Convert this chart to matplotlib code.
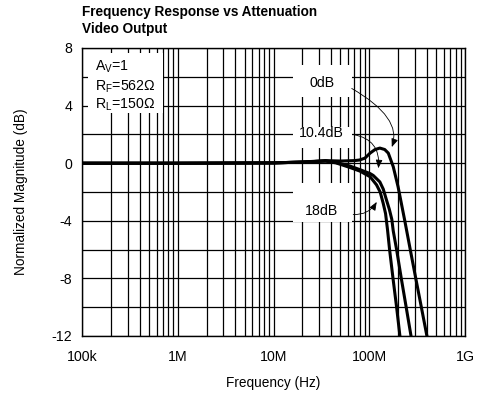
import numpy as np
import matplotlib
matplotlib.use('Agg')
import matplotlib.pyplot as plt
from matplotlib.patches import Rectangle
from matplotlib.ticker import FixedLocator, NullFormatter

plt.rcParams['font.family'] = ['Liberation Sans', 'DejaVu Sans']
plt.rcParams['mathtext.fontset'] = 'custom'
plt.rcParams['mathtext.rm'] = 'Liberation Sans'

# curve data (Hz, dB)
f_0db = [1e5, 1e6, 1e7, 2e7, 3.5e7, 5e7, 7e7, 7.9e7, 9e7, 1.02e8, 1.15e8, 1.29e8,
         1.45e8, 1.58e8, 1.78e8, 2.0e8, 2.35e8, 2.68e8, 3.06e8, 3.5e8, 4.0e8]
db_0db = [0.0, 0.0, 0.02, 0.08, 0.18, 0.15, 0.18, 0.22, 0.35, 0.7, 0.95, 1.05,
          0.95, 0.7, -0.24, -1.64, -4.0, -6.0, -8.0, -10.0, -12.0]

f_104db = [1e5, 1e6, 1e7, 2e7, 3.5e7, 4.5e7, 6.3e7, 8e7, 1.02e8, 1.1e8, 1.29e8, 1.4e8,
           1.52e8, 1.62e8, 1.72e8, 1.78e8, 1.93e8, 2.16e8, 2.43e8, 2.73e8]
db_104db = [0.0, 0.0, 0.02, 0.08, 0.15, 0.05, -0.2, -0.45, -0.72, -0.85, -1.3, -1.8,
            -2.6, -3.2, -3.9, -4.7, -6.0, -8.0, -10.0, -12.0]

f_18db = [1e5, 1e6, 1e7, 2e7, 3.5e7, 4.5e7, 6.3e7, 8e7, 1.02e8, 1.19e8, 1.3e8, 1.4e8,
          1.48e8, 1.55e8, 1.63e8, 1.77e8, 1.93e8, 2.09e8]
db_18db = [0.0, 0.0, 0.02, 0.08, 0.15, 0.02, -0.3, -0.55, -0.94, -1.5, -2.0, -2.8,
           -3.5, -4.6, -6.0, -8.0, -10.0, -12.0]

xticks = [1e5, 1e6, 1e7, 1e8, 1e9]
xticklabels = ['100k', '1M', '10M', '100M', '1G']
yticks = [-12, -8, -4, 0, 4, 8]

fs = 10.2
lw = 2.2

fig = plt.figure(figsize=(4.79, 3.98), dpi=100)
ax = fig.add_axes([0.1712, 0.1558, 0.7996, 0.7236])

ax.plot(f_0db, db_0db, 'k-', lw=lw, zorder=3)
ax.plot(f_104db, db_104db, 'k-', lw=lw, zorder=3)
ax.plot(f_18db, db_18db, 'k-', lw=lw, zorder=3)

ax.set_xscale('log')
ax.set_xlim(1e5, 1e9)
ax.set_ylim(-12, 8)
ax.set_xticks(xticks)
ax.set_xticklabels(xticklabels, fontsize=fs)
ax.xaxis.set_minor_formatter(NullFormatter())
ax.set_yticks(yticks)
ax.set_yticklabels([str(v) for v in yticks], fontsize=fs)
ax.yaxis.set_minor_locator(FixedLocator([-10, -6, -2, 2, 6]))
ax.tick_params(which='both', length=0)
ax.tick_params(axis='y', pad=7)
ax.tick_params(axis='x', pad=10)
ax.grid(True, which='both', color='k', lw=0.9)
ax.set_axisbelow(True)
for s in ax.spines.values():
    s.set_linewidth(1.0)

ax.set_xlabel('Frequency (Hz)', fontsize=9.8, labelpad=9)
ax.set_ylabel('Normalized Magnitude (dB)', fontsize=9.8, labelpad=17)

fig.text(0.1712, 1 - 5 / 398, 'Frequency Response vs Attenuation\nVideo Output',
         fontsize=9.8, fontweight='bold', ha='left', va='top', linespacing=1.3)

# white label boxes over the grid
for x0, y0, w, h in [(0.016, 0.774, 0.195, 0.209),
                     (0.551, 0.830, 0.154, 0.111),
                     (0.551, 0.653, 0.154, 0.073),
                     (0.551, 0.396, 0.154, 0.135)]:
    ax.add_patch(Rectangle((x0, y0), w, h, transform=ax.transAxes,
                           fc='white', ec='none', zorder=2))

ax.text(0.034, 0.935, r'A$_\mathregular{V}$=1', transform=ax.transAxes,
        fontsize=fs, va='center', zorder=4)
ax.text(0.034, 0.867, r'R$_\mathregular{F}$=562$\Omega$', transform=ax.transAxes,
        fontsize=fs, va='center', zorder=4)
ax.text(0.034, 0.803, r'R$_\mathregular{L}$=150$\Omega$', transform=ax.transAxes,
        fontsize=fs, va='center', zorder=4)

ax.text(3.18e7, 5.55, '0dB', fontsize=fs, ha='center', va='center', zorder=4)
ax.text(3.18e7, 2.1, '10.4dB', fontsize=fs, ha='center', va='center', zorder=4)
ax.text(3.18e7, -3.35, '18dB', fontsize=fs, ha='center', va='center', zorder=4)

aprops = dict(arrowstyle='-|>,head_length=0.5,head_width=0.2', lw=0.6, color='k',
              shrinkA=0, shrinkB=0, mutation_scale=10)
ax.annotate('', xy=(1.72e8, 1.12), xytext=(6.56e7, 5.19),
            arrowprops=dict(aprops, connectionstyle='angle3,angleA=-30,angleB=70'), zorder=4)
ax.annotate('', xy=(1.245e8, -0.35), xytext=(6.8e7, 1.99),
            arrowprops=dict(aprops, connectionstyle='angle3,angleA=-10,angleB=85'), zorder=4)
ax.annotate('', xy=(1.197e8, -2.69), xytext=(6.8e7, -3.56),
            arrowprops=dict(aprops, connectionstyle='arc3,rad=0.3'), zorder=4)

fig.savefig('out.png', dpi=100)
